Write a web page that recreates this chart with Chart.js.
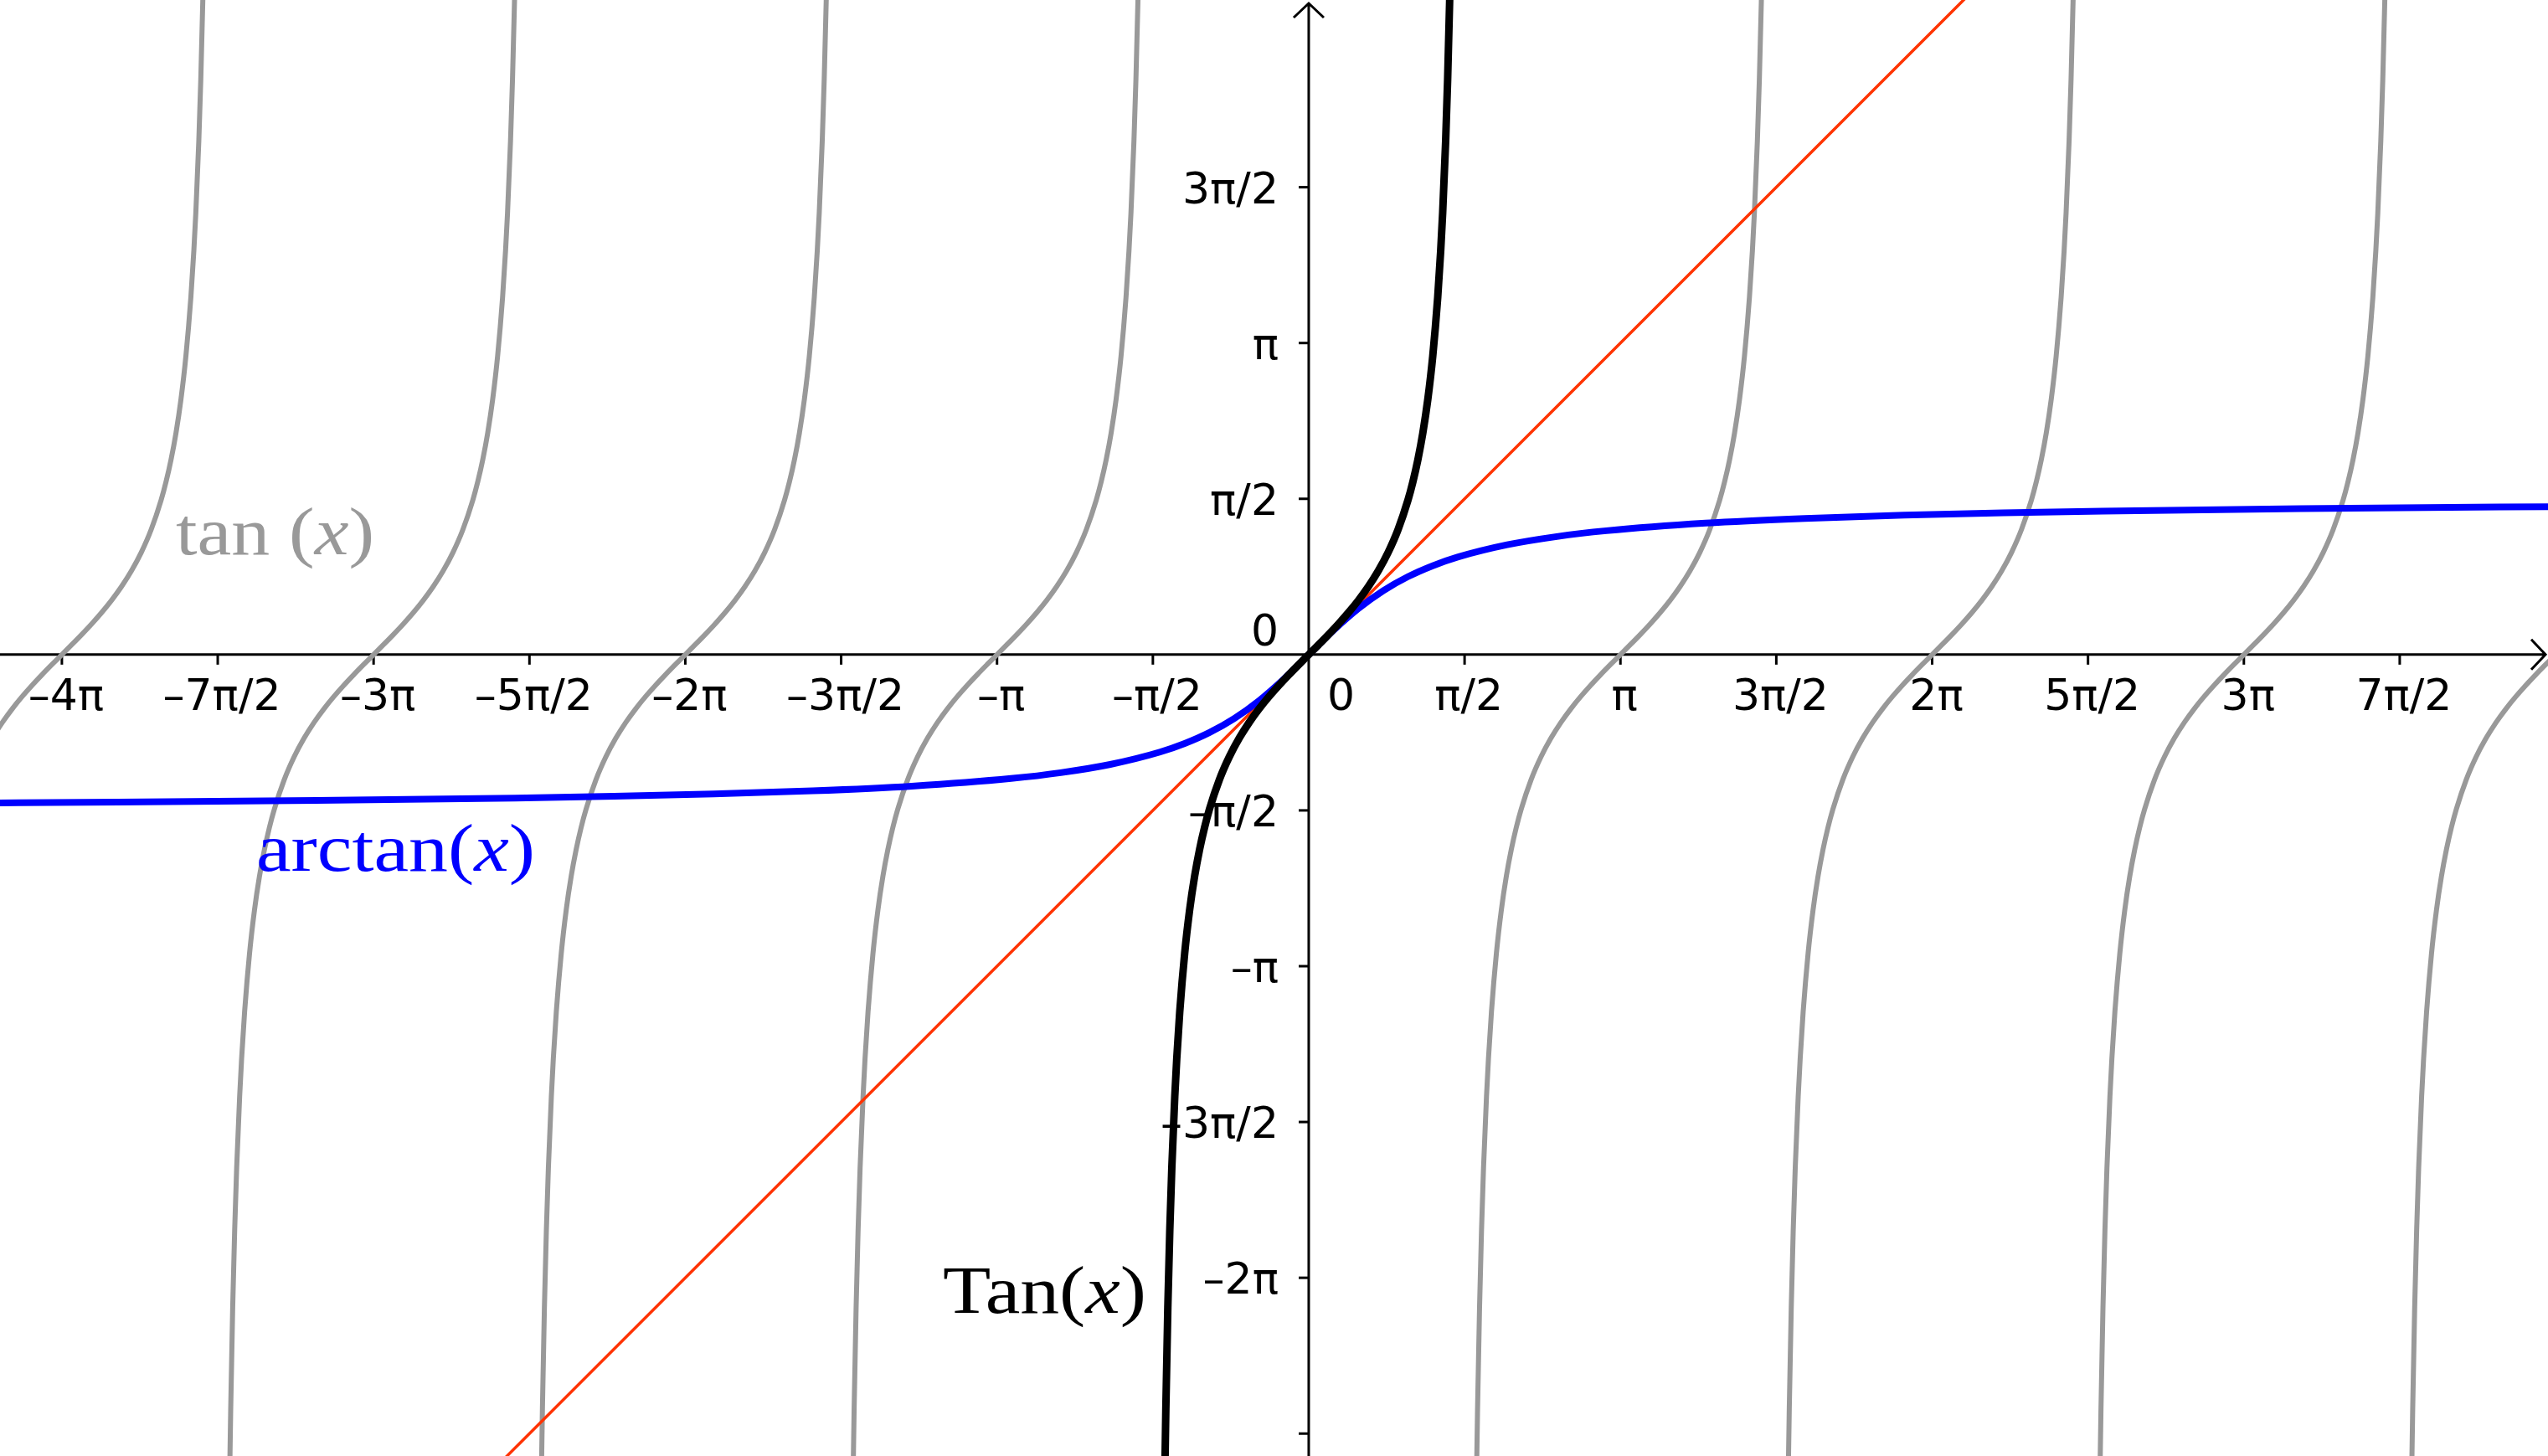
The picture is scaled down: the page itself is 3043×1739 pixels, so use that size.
<!DOCTYPE html>
<html>
<head>
<meta charset="utf-8">
<title>tan, arctan, Tan</title>
<script src="https://cdn.jsdelivr.net/npm/chart.js@4.4.1/dist/chart.umd.min.js"></script>
<style>
  html, body { margin: 0; padding: 0; background: #fff; }
  canvas { display: block; }
</style>
</head>
<body>
<canvas id="tan-chart" width="3043" height="1739"></canvas>
<script>
// visible window (units of x and y)
var xMin = -13.19, xMax = 12.49;
var yMin = -8.08, yMax = 6.60;

// one branch of tan, offsets u around the branch centre and tan(u)
var branchU = [-1.5, -1.48, -1.47, -1.46, -1.45, -1.44, -1.42, -1.4, -1.38, -1.35, -1.33, -1.3, -1.25, -1.2, -1.15, -1.1, -1.05, -1.0,
               -0.9, -0.8, -0.7, -0.6, -0.5, -0.4, -0.3, -0.2, -0.1, 0,
               0.1, 0.2, 0.3, 0.4, 0.5, 0.6, 0.7, 0.8, 0.9,
               1.0, 1.05, 1.1, 1.15, 1.2, 1.25, 1.3, 1.33, 1.35, 1.38, 1.4, 1.42, 1.44, 1.45, 1.46, 1.47, 1.48, 1.5];
var branchTan = [-14.101, -10.983, -9.887, -8.989, -8.238, -7.602, -6.581, -5.798, -5.177, -4.455, -4.072, -3.6021, -3.0096, -2.5722, -2.2345, -1.9648, -1.7433, -1.5574,
                 -1.2602, -1.0296, -0.8423, -0.6841, -0.5463, -0.4228, -0.3093, -0.2027, -0.1003, 0,
                 0.1003, 0.2027, 0.3093, 0.4228, 0.5463, 0.6841, 0.8423, 1.0296, 1.2602,
                 1.5574, 1.7433, 1.9648, 2.2345, 2.5722, 3.0096, 3.6021, 4.072, 4.455, 5.177, 5.798, 6.581, 7.602, 8.238, 8.989, 9.887, 10.983, 14.101];
// grey tan(x) branches, centres in multiples of pi
var branchCenters = [-4, -3, -2, -1, 0, 1, 2, 3, 4];

// arctan(x)
var atanX = [-13.5, -12, -10, -8, -7, -6, -5, -4, -3, -2.5, -2, -1.5, -1.25, -1, -0.75, -0.5, -0.25, 0,
             0.25, 0.5, 0.75, 1, 1.25, 1.5, 2, 2.5, 3, 4, 5, 6, 7, 8, 10, 12, 13.5];
var atanY = [-1.4969, -1.4877, -1.4711, -1.4464, -1.4289, -1.4056, -1.3734, -1.3258, -1.2490, -1.1903, -1.1071, -0.9828, -0.8961, -0.7854, -0.6435, -0.4636, -0.2450, 0,
             0.2450, 0.4636, 0.6435, 0.7854, 0.8961, 0.9828, 1.1071, 1.1903, 1.2490, 1.3258, 1.3734, 1.4056, 1.4289, 1.4464, 1.4711, 1.4877, 1.4969];

// y = x
var lineX = [-14, 14];
var lineY = [-14, 14];

// ticks, in multiples of pi/2
var xTickSteps = [-8, -7, -6, -5, -4, -3, -2, -1, 1, 2, 3, 4, 5, 6, 7];
var xTickLabels = ['–4π', '–7π/2', '–3π', '–5π/2', '–2π', '–3π/2', '–π', '–π/2', 'π/2', 'π', '3π/2', '2π', '5π/2', '3π', '7π/2'];
var yTickSteps = [3, 2, 1, -1, -2, -3, -4, -5];
var yTickLabels = ['3π/2', 'π', 'π/2', '–π/2', '–π', '–3π/2', '–2π', ''];

function toPoints(xs, ys) {
    return xs.map(function(x, i) { return { x: x, y: ys[i] }; });
}

function drawMathLabel(ctx, parts, left, baseline, width, color) {
    var size = 80;
    var fonts = parts.map(function(p) {
        return (p[1] ? 'italic ' : '') + size + 'px "Liberation Serif", serif';
    });
    var widths = parts.map(function(p, i) {
        ctx.font = fonts[i];
        return ctx.measureText(p[0]).width;
    });
    var total = widths.reduce(function(a, b) { return a + b; }, 0);
    ctx.save();
    ctx.fillStyle = color;
    ctx.textAlign = 'left';
    ctx.textBaseline = 'alphabetic';
    ctx.translate(left, baseline);
    ctx.scale(width / total, 1);
    var cx = 0;
    parts.forEach(function(p, i) {
        ctx.font = fonts[i];
        ctx.fillText(p[0], cx, 0);
        cx += widths[i];
    });
    ctx.restore();
}

var axesPlugin = {
    id: 'axesPlugin',
    beforeDatasetsDraw: function(chart) {
        var ctx = chart.ctx;
        var xs = chart.scales.x, ys = chart.scales.y;
        var area = chart.chartArea;
        var ox = xs.getPixelForValue(0), oy = ys.getPixelForValue(0);
        var halfPi = Math.PI / 2;

        ctx.save();
        ctx.strokeStyle = '#000';
        ctx.lineWidth = 3;

        // x axis with arrow
        var xr = area.right - 3;
        ctx.beginPath();
        ctx.moveTo(area.left, oy);
        ctx.lineTo(xr, oy);
        ctx.moveTo(xr - 17, oy - 18);
        ctx.lineTo(xr, oy);
        ctx.lineTo(xr - 17, oy + 18);
        ctx.stroke();

        // y axis with arrow
        var yt = area.top + 4;
        ctx.beginPath();
        ctx.moveTo(ox, area.bottom);
        ctx.lineTo(ox, yt);
        ctx.moveTo(ox - 18, yt + 17);
        ctx.lineTo(ox, yt);
        ctx.lineTo(ox + 18, yt + 17);
        ctx.stroke();

        ctx.fillStyle = '#000';
        ctx.font = '52px "DejaVu Sans", sans-serif';

        // x ticks and labels
        ctx.textAlign = 'center';
        ctx.textBaseline = 'alphabetic';
        xTickSteps.forEach(function(s, i) {
            var px = xs.getPixelForValue(s * halfPi);
            ctx.beginPath();
            ctx.moveTo(px, oy);
            ctx.lineTo(px, oy + 12);
            ctx.stroke();
            ctx.fillText(xTickLabels[i], px + 5, oy + 66);
        });

        // y ticks and labels
        ctx.textAlign = 'right';
        yTickSteps.forEach(function(s, i) {
            var py = ys.getPixelForValue(s * halfPi);
            ctx.beginPath();
            ctx.moveTo(ox - 12, py);
            ctx.lineTo(ox, py);
            ctx.stroke();
            if (yTickLabels[i]) {
                ctx.fillText(yTickLabels[i], ox - 36, py + 19);
            }
        });

        // the two zeros at the origin
        ctx.fillText('0', ox - 36, oy - 11);
        ctx.textAlign = 'left';
        ctx.fillText('0', ox + 22, oy + 66);
        ctx.restore();
    },
    afterDatasetsDraw: function(chart) {
        var ctx = chart.ctx;
        drawMathLabel(ctx, [['tan', false], [' ', false], ['(', false], ['x', true], [')', false]], 210, 662, 237, '#999999');
        drawMathLabel(ctx, [['arctan', false], ['(', false], ['x', true], [')', false]], 306, 1040, 333, '#0000ff');
        drawMathLabel(ctx, [['Tan', false], ['(', false], ['x', true], [')', false]], 1126, 1568, 243, '#000000');
    }
};

document.addEventListener("DOMContentLoaded", function() {
    var datasets = [];

    branchCenters.forEach(function(k) {
        var shifted = branchU.map(function(u) { return u + k * Math.PI; });
        datasets.push({
            label: 'tan(x)',
            data: toPoints(shifted, branchTan),
            borderColor: '#999999',
            borderWidth: 6,
            cubicInterpolationMode: 'monotone'
        });
    });

    datasets.push({
        label: 'y = x',
        data: toPoints(lineX, lineY),
        borderColor: '#ff3300',
        borderWidth: 3.5
    });

    datasets.push({
        label: 'arctan(x)',
        data: toPoints(atanX, atanY),
        borderColor: '#0000ff',
        borderWidth: 8,
        cubicInterpolationMode: 'monotone'
    });

    datasets.push({
        label: 'Tan(x)',
        data: toPoints(branchU, branchTan),
        borderColor: '#000000',
        borderWidth: 9,
        cubicInterpolationMode: 'monotone'
    });

    // Chart.js paints the first dataset on top, so the list is pushed
    // bottom-to-top and the order is set from that
    datasets.forEach(function(d, i) {
        d.order = datasets.length - i;
        d.showLine = true;
        d.pointRadius = 0;
        d.pointHoverRadius = 0;
        d.fill = false;
        d.borderCapStyle = 'round';
        d.borderJoinStyle = 'round';
    });

    new Chart(document.getElementById('tan-chart'), {
        type: 'scatter',
        data: { datasets: datasets },
        options: {
            responsive: false,
            animation: false,
            devicePixelRatio: 1,
            layout: { padding: 0 },
            plugins: {
                legend: { display: false },
                tooltip: { enabled: false }
            },
            scales: {
                x: { type: 'linear', display: false, min: xMin, max: xMax },
                y: { type: 'linear', display: false, min: yMin, max: yMax }
            }
        },
        plugins: [axesPlugin]
    });
});
</script>
</body>
</html>
